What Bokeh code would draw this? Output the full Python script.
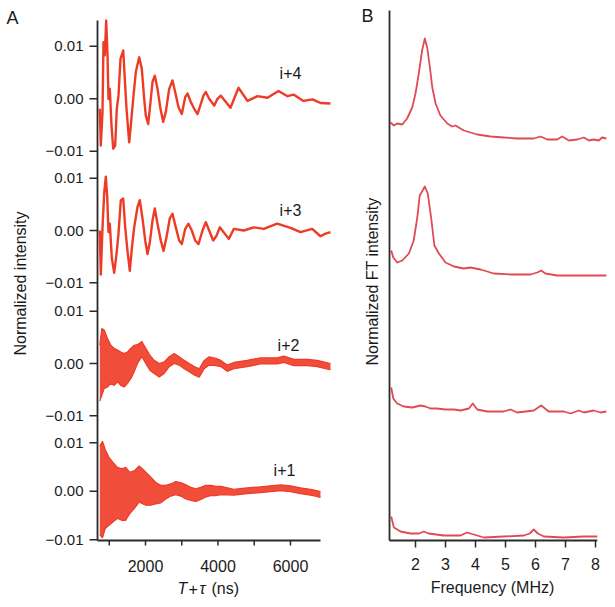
from bokeh.plotting import figure
from bokeh.layouts import row
from bokeh.models import Range1d
from bokeh.core.properties import value
from bokeh.embed import file_html
from bokeh.resources import INLINE

# ---------------- Panel A data (time in ns, normalized intensity) ----------------
t_i4 = [739, 767, 814, 841, 877, 916, 952, 979, 1015, 1062, 1109, 1164, 1208, 1255, 1310, 1385, 1429, 1476,
        1550, 1594, 1661, 1732, 1826, 1898, 1964, 2008, 2074, 2119, 2193, 2257, 2331, 2406, 2488, 2560, 2654,
        2745, 2819, 2910, 3002, 3095, 3159, 3250, 3344, 3435, 3498, 3600, 3664, 3757, 3895, 3986, 4078, 4345,
        4566, 4814, 5090, 5366, 5669, 5918, 6083, 6359, 6607, 6828, 7104]
v_i4 = [-0.0019, -0.0089, -0.0025, 0.0108, 0.0083, 0.0149, 0.0083, 0.0000, 0.0019, -0.0051, -0.0095, -0.0089,
        -0.0019, 0.0006, 0.0076, 0.0092, 0.0038, -0.0019, -0.0083, -0.0051, 0.0000, 0.0051, 0.0079, 0.0057,
        0.0000, -0.0032, -0.0048, -0.0019, 0.0032, 0.0044, 0.0019, -0.0016, -0.0044, -0.0025, 0.0019, 0.0035,
        0.0013, -0.0016, -0.0029, 0.0003, 0.0010, -0.0006, -0.0019, -0.0029, -0.0016, 0.0006, 0.0013, 0.0000,
        -0.0013, 0.0000, 0.0006, -0.0017, 0.0021, -0.0004, 0.0005, 0.0002, 0.0015, 0.0005, 0.0008, -0.0004,
        -0.0001, -0.0008, -0.0009]

t_i3 = [739, 767, 814, 860, 905, 943, 979, 1015, 1070, 1136, 1200, 1255, 1319, 1385, 1440, 1503, 1567, 1622,
        1688, 1779, 1843, 1917, 1992, 2055, 2119, 2193, 2257, 2331, 2422, 2497, 2579, 2670, 2745, 2836, 2930,
        3002, 3095, 3186, 3277, 3371, 3462, 3573, 3664, 3757, 3868, 3959, 4050, 4298, 4436, 4712, 4988, 5264,
        5634, 6001, 6276, 6599, 6828, 6966, 7104]
v_i3 = [0.0000, -0.0084, 0.0006, 0.0071, 0.0103, 0.0065, -0.0003, 0.0013, -0.0052, -0.0081, -0.0045, -0.0006,
        0.0058, 0.0061, 0.0006, -0.0039, -0.0077, -0.0035, 0.0006, 0.0045, 0.0058, 0.0023, -0.0019, -0.0045,
        -0.0023, 0.0019, 0.0042, 0.0013, -0.0019, -0.0039, -0.0013, 0.0023, 0.0032, 0.0006, -0.0019, -0.0026,
        0.0003, 0.0013, 0.0000, -0.0019, -0.0026, 0.0000, 0.0016, 0.0000, -0.0019, -0.0010, 0.0006, -0.0016,
        0.0003, 0.0000, 0.0006, 0.0003, 0.0013, 0.0005, -0.0003, 0.0003, -0.0011, -0.0006, -0.0003]

# i+2 and i+1: dense fast oscillation -> upper / lower envelope of the trace
t_i2 = [739, 794, 861, 952, 1043, 1136, 1227, 1319, 1412, 1503, 1594, 1688, 1779, 1898, 2008, 2119, 2240, 2378,
        2516, 2654, 2792, 2930, 3068, 3206, 3344, 3482, 3620, 3757, 3940, 4078, 4254, 4436, 4806, 5173, 5634,
        5816, 6092, 6461, 6737, 6966, 7104]
up_i2 = [0.0035, 0.0067, 0.0064, 0.0048, 0.0035, 0.0029, 0.0026, 0.0022, 0.0019, 0.0022, 0.0029, 0.0035, 0.0036,
         0.0042, 0.0029, 0.0016, 0.0006, 0.0000, 0.0003, 0.0013, 0.0019, 0.0013, 0.0006, 0.0000, -0.0006, -0.0010,
         0.0006, 0.0013, 0.0010, 0.0006, -0.0003, 0.0002, 0.0006, 0.0011, 0.0011, 0.0014, 0.0008, 0.0008, 0.0006,
         0.0002, 0.0000]
lo_i2 = [-0.0072, -0.0061, -0.0048, -0.0045, -0.0038, -0.0042, -0.0035, -0.0042, -0.0045, -0.0038, -0.0029,
         -0.0016, 0.0000, 0.0013, 0.0000, -0.0013, -0.0019, -0.0026, -0.0019, -0.0006, 0.0000, -0.0003, -0.0010,
         -0.0016, -0.0022, -0.0026, -0.0010, -0.0003, -0.0004, -0.0006, -0.0015, -0.0010, -0.0006, -0.0001,
         -0.0001, 0.0002, -0.0004, -0.0004, -0.0006, -0.0010, -0.0012]

t_i1 = [739, 814, 888, 998, 1109, 1227, 1346, 1456, 1567, 1688, 1826, 1917, 2008, 2146, 2284, 2422, 2560, 2698,
        2836, 2974, 3112, 3250, 3388, 3526, 3664, 3802, 3940, 4078, 4436, 4806, 5173, 5449, 5725, 6001, 6276,
        6552, 6690, 6828]
up_i1 = [0.0093, 0.0103, 0.0086, 0.0069, 0.0059, 0.0049, 0.0046, 0.0049, 0.0039, 0.0042, 0.0052, 0.0046, 0.0039,
         0.0029, 0.0018, 0.0012, 0.0012, 0.0015, 0.0020, 0.0018, 0.0013, 0.0008, 0.0005, 0.0008, 0.0012, 0.0012,
         0.0010, 0.0010, 0.0004, 0.0007, 0.0009, 0.0011, 0.0013, 0.0011, 0.0007, 0.0004, 0.0002, -0.0001]
lo_i1 = [-0.0090, -0.0096, -0.0077, -0.0070, -0.0063, -0.0056, -0.0060, -0.0060, -0.0046, -0.0036, -0.0022,
         -0.0026, -0.0029, -0.0029, -0.0026, -0.0024, -0.0016, -0.0010, -0.0007, -0.0010, -0.0016, -0.0019,
         -0.0021, -0.0017, -0.0012, -0.0009, -0.0009, -0.0007, -0.0008, -0.0005, -0.0003, -0.0001, 0.0001,
         -0.0001, -0.0005, -0.0008, -0.0010, -0.0013]

trace_names = ["i+4", "i+3", "i+2", "i+1"]
y_tick_values = [-0.01, 0.0, 0.01]
y_tick_texts = ["\u22120.01", "0.00", "0.01"]
x_ticks_A = [1000, 2000, 3000, 4000, 5000, 6000]
x_tick_texts_A = ["", "2000", "", "4000", "", "6000"]

# ---------------- Panel B data (frequency in MHz, normalized FT intensity) ----------------
f_i4 = [1.17, 1.28, 1.39, 1.56, 1.72, 1.89, 2.0, 2.11, 2.22, 2.31, 2.39, 2.48, 2.56, 2.67, 2.83, 3.06, 3.22,
        3.33, 3.61, 4.06, 4.5, 4.94, 5.39, 5.94, 6.17, 6.39, 6.72, 6.89, 7.11, 7.39, 7.61, 7.78, 7.94, 8.11,
        8.22, 8.36]
a_i4 = [0.18, 0.15, 0.17, 0.16, 0.22, 0.33, 0.47, 0.67, 0.90, 1.02, 0.93, 0.73, 0.53, 0.37, 0.25, 0.17, 0.14,
        0.15, 0.10, 0.06, 0.04, 0.03, 0.02, 0.02, 0.04, 0.01, 0.01, 0.04, 0.00, 0.01, 0.03, 0.00, 0.01, 0.00,
        0.03, 0.02]
f_i3 = [1.19, 1.26, 1.39, 1.56, 1.78, 1.94, 2.06, 2.14, 2.22, 2.31, 2.41, 2.52, 2.63, 2.78, 3.0, 3.28, 3.61,
        3.83, 4.17, 4.61, 5.17, 5.83, 6.06, 6.19, 6.33, 6.72, 7.17, 7.61, 8.06, 8.36]
a_i3 = [0.27, 0.20, 0.15, 0.17, 0.24, 0.37, 0.60, 0.82, 0.86, 0.91, 0.84, 0.60, 0.32, 0.24, 0.15, 0.11, 0.09,
        0.10, 0.08, 0.04, 0.03, 0.03, 0.05, 0.07, 0.04, 0.02, 0.02, 0.02, 0.02, 0.02]
f_i2 = [1.19, 1.26, 1.39, 1.61, 1.89, 2.17, 2.33, 2.5, 2.72, 3.0, 3.28, 3.5, 3.78, 3.91, 4.06, 4.39, 4.94, 5.17,
        5.39, 5.94, 6.19, 6.44, 6.94, 7.17, 7.44, 7.61, 7.94, 8.17, 8.36]
a_i2 = [0.26, 0.15, 0.10, 0.07, 0.06, 0.08, 0.07, 0.05, 0.05, 0.04, 0.04, 0.03, 0.05, 0.10, 0.04, 0.02, 0.02,
        0.04, 0.01, 0.03, 0.08, 0.02, 0.02, 0.00, 0.03, 0.01, 0.03, 0.01, 0.02]
f_i1 = [1.19, 1.28, 1.5, 1.83, 2.11, 2.28, 2.44, 2.94, 3.5, 3.72, 3.94, 4.28, 4.94, 5.61, 5.81, 5.94, 6.08, 6.28,
        6.94, 7.61, 8.06]
a_i1 = [0.24, 0.13, 0.09, 0.07, 0.07, 0.09, 0.07, 0.05, 0.05, 0.08, 0.06, 0.03, 0.04, 0.05, 0.07, 0.11, 0.07,
        0.04, 0.03, 0.04, 0.04]
x_ticks_B = [2, 3, 4, 5, 6, 7, 8]
x_tick_texts_B = ["2", "3", "4", "5", "6", "7", "8"]

# ---------------- layout constants (page pixels) ----------------
RED_A = "#ee3b26"
RED_B = "#df4a55"
AXIS_C = "#2a2a2a"
TEXT_C = "#1a1a1a"
FONT = "Liberation Sans"
H = 605
WA, WB = 358, 255
A_LEFT, A_TOP, BOT = 97, 20, 540
B_LEFT, B_TOP = 389, 10


def ax(xp):  # page x -> ns
    return 2000 + (xp - 145) * 27.59


def ay(yp):  # page y -> panel A main units
    return BOT - yp


def bx(xp):  # page x -> MHz
    return 2 + (xp - 415) / 30.0


def by(yp):  # page y -> panel B units
    return (BOT - yp) / 100.0


def make_fig(w, xr, yr):
    p = figure(width=w, height=H, output_backend="svg", toolbar_location=None,
               x_range=xr, y_range=yr, x_axis_type=None, y_axis_type=None)
    p.min_border = 0
    p.outline_line_color = None
    p.xgrid.grid_line_color = None
    p.ygrid.grid_line_color = None
    p.background_fill_color = "white"
    return p


def txt(p, x, y, s, size="16px", align="center", baseline="middle", angle=0.0, style="normal", rn="default"):
    p.text(x=x, y=y, text=s, text_font=value(FONT), text_font_size=value(size), text_align=align,
           text_baseline=baseline, angle=angle, text_font_style=style, text_color=TEXT_C, y_range_name=rn)


# sub-panel zero lines (page y) and scales (px per 0.01)
zeros = [98.3, 230.0, 363.0, 490.7]
scales = [52.5, 52.3, 52.2, 48.5]
label_pos = [(290, 73), (290, 210), (288, 345), (284, 470)]

# ---------------- Panel A ----------------
pA = make_fig(WA, Range1d(ax(0), ax(WA)), Range1d(ay(H), ay(0)))
for k in range(4):
    z, s = zeros[k], scales[k]
    base = BOT - z
    pA.extra_y_ranges["s%d" % k] = Range1d((ay(H) - base) * 0.01 / s, (ay(0) - base) * 0.01 / s)

pA.line(t_i4, v_i4, y_range_name="s0", line_color=RED_A, line_width=2.4, line_join="round")
pA.line(t_i3, v_i3, y_range_name="s1", line_color=RED_A, line_width=2.4, line_join="round")
pA.varea(x=t_i2, y1=lo_i2, y2=up_i2, y_range_name="s2", fill_color=RED_A, fill_alpha=0.9)
pA.multi_line([t_i2, t_i2], [up_i2, lo_i2], y_range_name="s2", line_color=RED_A, line_width=1.2)
pA.varea(x=t_i1, y1=lo_i1, y2=up_i1, y_range_name="s3", fill_color=RED_A, fill_alpha=0.9)
pA.multi_line([t_i1, t_i1], [up_i1, lo_i1], y_range_name="s3", line_color=RED_A, line_width=1.2)

# axes (drawn through the figure's scales)
pA.segment(x0=[ax(A_LEFT)], y0=[ay(A_TOP)], x1=[ax(A_LEFT)], y1=[ay(BOT)], line_color=AXIS_C, line_width=1.8)
pA.segment(x0=[ax(A_LEFT)], y0=[ay(BOT)], x1=[ax(320)], y1=[ay(BOT)], line_color=AXIS_C, line_width=1.8)
for k in range(4):
    rn = "s%d" % k
    pA.segment(x0=[ax(A_LEFT - 8)] * 3, x1=[ax(A_LEFT)] * 3, y0=y_tick_values, y1=y_tick_values,
               y_range_name=rn, line_color=AXIS_C, line_width=1.5)
    txt(pA, [ax(A_LEFT - 14)] * 3, y_tick_values, y_tick_texts, size="15px", align="right", rn=rn)
pA.segment(x0=x_ticks_A, x1=x_ticks_A, y0=[ay(BOT)] * 6, y1=[ay(BOT + 5)] * 6, line_color=AXIS_C, line_width=1.5)
txt(pA, x_ticks_A, [ay(565)] * 6, x_tick_texts_A, size="16px")

for name, (lx, ly) in zip(trace_names, label_pos):
    txt(pA, [ax(lx)], [ay(ly)], [name], size="16px")

txt(pA, [ax(20)], [ay(283)], ["Normalized intensity"], size="16px", angle=1.5708)
txt(pA, [ax(12)], [ay(17)], ["A"], size="18px")
for s_, xp, style in [("T", 177, "italic"), ("+", 188, "normal"), ("\u03c4", 199, "italic"), ("(ns)", 211, "normal")]:
    txt(pA, [ax(xp)], [ay(588)], [s_], size="16px", align="left", style=style)

# ---------------- Panel B ----------------
pB = make_fig(WB, Range1d(bx(WA), bx(WA + WB)), Range1d(by(H), by(0)))
offsets = [4.0, 2.63, 1.27, 0.0]
for f, a, off in zip([f_i4, f_i3, f_i2, f_i1], [a_i4, a_i3, a_i2, a_i1], offsets):
    pB.line(f, [v + off for v in a], line_color=RED_B, line_width=1.8, line_join="round")

pB.segment(x0=[bx(B_LEFT)], y0=[by(B_TOP)], x1=[bx(B_LEFT)], y1=[by(BOT)], line_color=AXIS_C, line_width=1.8)
pB.segment(x0=[bx(B_LEFT)], y0=[by(BOT)], x1=[8.06], y1=[by(BOT)], line_color=AXIS_C, line_width=1.8)
pB.segment(x0=x_ticks_B, x1=x_ticks_B, y0=[by(BOT)] * 7, y1=[by(BOT + 7)] * 7, line_color=AXIS_C, line_width=1.5)
txt(pB, x_ticks_B, [by(563)] * 7, x_tick_texts_B, size="16px")
txt(pB, [bx(492)], [by(587)], ["Frequency (MHz)"], size="16px")
txt(pB, [bx(372)], [by(281)], ["Normalized FT intensity"], size="16px", angle=1.5708)
txt(pB, [bx(367)], [by(15)], ["B"], size="18px")

layout = row(pA, pB)
open("out.html", "w").write(file_html(layout, INLINE))
